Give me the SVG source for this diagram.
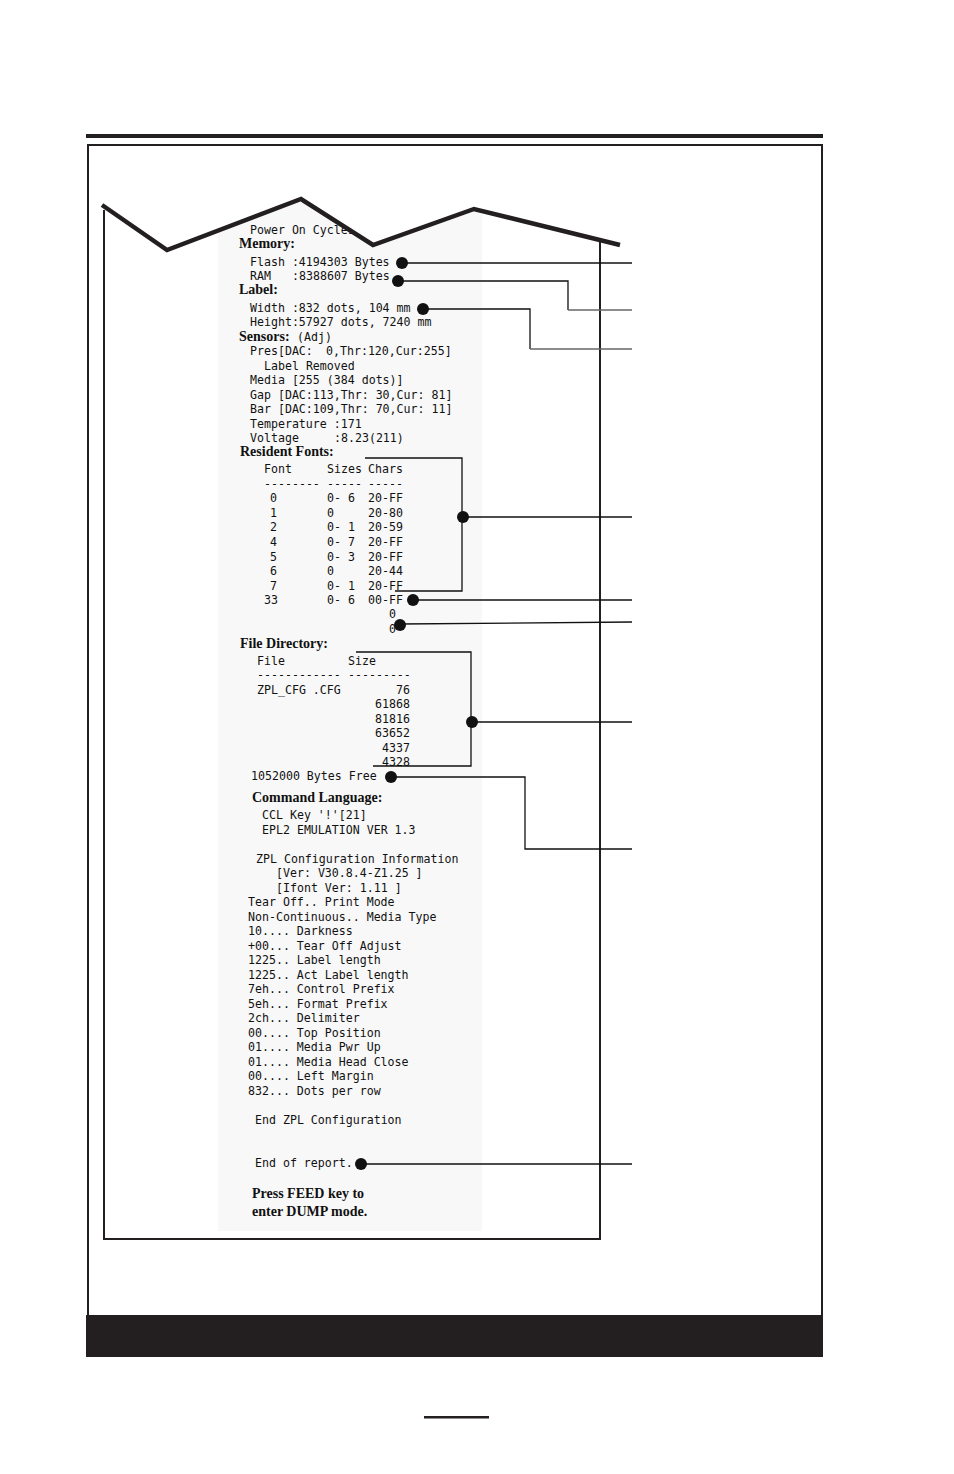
<svg xmlns="http://www.w3.org/2000/svg" width="954" height="1474" viewBox="0 0 954 1474">
<style>
.m{font-family:"DejaVu Sans Mono","Liberation Mono",monospace;font-size:11.6px;fill:#111}
.h{font-family:"Liberation Serif","Times New Roman",serif;font-size:14px;font-weight:bold;fill:#111}
.c{fill:none;stroke:#111;stroke-width:1.3}
.g{fill:none;stroke:#666;stroke-width:1.6}
.d{fill:#111}
.r{text-anchor:end}
</style>
<defs>
<clipPath id="paper"><polygon points="102,205 167,250 301,199 373,245 474,209 620,245 620,1240 102,1240"/></clipPath>
</defs>
<rect width="954" height="1474" fill="#fff"/>
<g id="page-frame">
<rect x="86" y="134" width="737" height="4" fill="#231f20"/>
<rect x="88" y="145" width="734" height="1171" fill="none" stroke="#231f20" stroke-width="2"/>
<rect x="86" y="1315" width="737" height="42" fill="#231f20"/>
<rect x="424" y="1416" width="65" height="2.5" fill="#231f20"/>
</g>
<g id="printout" clip-path="url(#paper)">
<rect x="218" y="195" width="264" height="1036" fill="#f8f8f8"/>
<text class="m" x="250" y="234">Power On Cycles</text>
<text class="h" x="239" y="248">Memory:</text>
<text class="m" x="250" y="266">Flash :4194303 Bytes</text>
<text class="m" x="250" y="280">RAM</text><text class="m" x="292" y="280">:8388607 Bytes</text>
<text class="h" x="239" y="294">Label:</text>
<text class="m" x="250" y="312">Width :832 dots, 104 mm</text>
<text class="m" x="250" y="326">Height:57927 dots, 7240 mm</text>
<text class="h" x="239" y="341">Sensors:</text><text class="m" x="297" y="341">(Adj)</text>
<text class="m" x="250" y="355">Pres[DAC:</text><text class="m" x="326" y="355">0,Thr:120,Cur:255]</text>
<text class="m" x="264" y="370">Label Removed</text>
<text class="m" x="250" y="384">Media [255 (384 dots)]</text>
<text class="m" x="250" y="399">Gap [DAC:113,Thr: 30,Cur: 81]</text>
<text class="m" x="250" y="413">Bar [DAC:109,Thr: 70,Cur: 11]</text>
<text class="m" x="250" y="428">Temperature :171</text>
<text class="m" x="250" y="442">Voltage</text><text class="m" x="334" y="442">:8.23(211)</text>
<text class="h" x="240" y="456">Resident Fonts:</text>
<text class="m" x="264" y="473">Font</text><text class="m" x="327" y="473">Sizes</text><text class="m" x="368" y="473">Chars</text>
<text class="m" x="264" y="488">--------</text><text class="m" x="327" y="488">-----</text><text class="m" x="368" y="488">-----</text>
<g class="m">
<text x="270" y="502">0</text><text x="327" y="502">0- 6</text><text x="368" y="502">20-FF</text>
<text x="270" y="517">1</text><text x="327" y="517">0</text><text x="368" y="517">20-80</text>
<text x="270" y="531">2</text><text x="327" y="531">0- 1</text><text x="368" y="531">20-59</text>
<text x="270" y="546">4</text><text x="327" y="546">0- 7</text><text x="368" y="546">20-FF</text>
<text x="270" y="561">5</text><text x="327" y="561">0- 3</text><text x="368" y="561">20-FF</text>
<text x="270" y="575">6</text><text x="327" y="575">0</text><text x="368" y="575">20-44</text>
<text x="270" y="590">7</text><text x="327" y="590">0- 1</text><text x="368" y="590">20-FF</text>
<text x="264" y="604">33</text><text x="327" y="604">0- 6</text><text x="368" y="604">00-FF</text>
<text x="389" y="618">0</text>
<text x="389" y="633">0</text>
</g>
<text class="h" x="240" y="648">File Directory:</text>
<text class="m" x="257" y="665">File</text><text class="m" x="348" y="665">Size</text>
<text class="m" x="257" y="679">------------</text><text class="m" x="348" y="679">---------</text>
<text class="m" x="257" y="694">ZPL_CFG .CFG</text>
<g class="m r">
<text x="410" y="694">76</text>
<text x="410" y="708">61868</text>
<text x="410" y="723">81816</text>
<text x="410" y="737">63652</text>
<text x="410" y="752">4337</text>
<text x="410" y="766">4328</text>
</g>
<text class="m" x="251" y="780">1052000 Bytes Free</text>
<text class="h" x="252" y="802">Command Language:</text>
<text class="m" x="262" y="819">CCL Key '!'[21]</text>
<text class="m" x="262" y="834">EPL2 EMULATION VER 1.3</text>
<text class="m" x="256" y="863">ZPL Configuration Information</text>
<text class="m" x="276" y="877">[Ver: V30.8.4-Z1.25 ]</text>
<text class="m" x="276" y="892">[Ifont Ver: 1.11 ]</text>
<g class="m">
<text x="248" y="906">Tear Off.. Print Mode</text>
<text x="248" y="921">Non-Continuous.. Media Type</text>
<text x="248" y="935">10.... Darkness</text>
<text x="248" y="950">+00... Tear Off Adjust</text>
<text x="248" y="964">1225.. Label length</text>
<text x="248" y="979">1225.. Act Label length</text>
<text x="248" y="993">7eh... Control Prefix</text>
<text x="248" y="1008">5eh... Format Prefix</text>
<text x="248" y="1022">2ch... Delimiter</text>
<text x="248" y="1037">00.... Top Position</text>
<text x="248" y="1051">01.... Media Pwr Up</text>
<text x="248" y="1066">01.... Media Head Close</text>
<text x="248" y="1080">00.... Left Margin</text>
<text x="248" y="1095">832... Dots per row</text>
<text x="255" y="1124">End ZPL Configuration</text>
<text x="255" y="1167">End of report.</text>
</g>
<text class="h" x="252" y="1198">Press FEED key to</text>
<text class="h" x="252" y="1216">enter DUMP mode.</text>
</g>
<g id="printout-edge" fill="none" stroke="#231f20">
<polyline points="102,205 167,250 301,199 373,245 474,209 620,245" stroke-width="4.5" stroke-linejoin="miter"/>
<polyline points="104,210 104,1239 600,1239 600,240" stroke-width="2"/>
</g>
<g id="connectors">
<polyline class="c" points="402,263 632,263"/>
<polyline class="c" points="398,281 568,281 568,310"/><polyline class="g" points="568,310 632,310"/>
<polyline class="c" points="423,309 530,309 530,349"/><polyline class="g" points="530,349 632,349"/>
<polyline class="c" points="365,458 462,458 462,591 395,591"/>
<polyline class="c" points="463,517 632,517"/>
<polyline class="c" points="413,600 632,600"/>
<polyline class="c" points="400,624 632,622"/>
<polyline class="c" points="356,652 471,652 471,766 373,766"/>
<polyline class="c" points="472,722 632,722"/>
<polyline class="c" points="391,777 525,777 525,849 632,849"/>
<polyline class="c" points="361,1164 632,1164"/>
<circle class="d" cx="402" cy="263" r="6"/>
<circle class="d" cx="398" cy="281" r="6"/>
<circle class="d" cx="423" cy="309" r="6"/>
<circle class="d" cx="463" cy="517" r="6"/>
<circle class="d" cx="413" cy="600" r="6"/>
<circle class="d" cx="400" cy="625" r="6"/>
<circle class="d" cx="472" cy="722" r="6"/>
<circle class="d" cx="391" cy="777" r="6"/>
<circle class="d" cx="361" cy="1164" r="6"/>
</g>
</svg>
